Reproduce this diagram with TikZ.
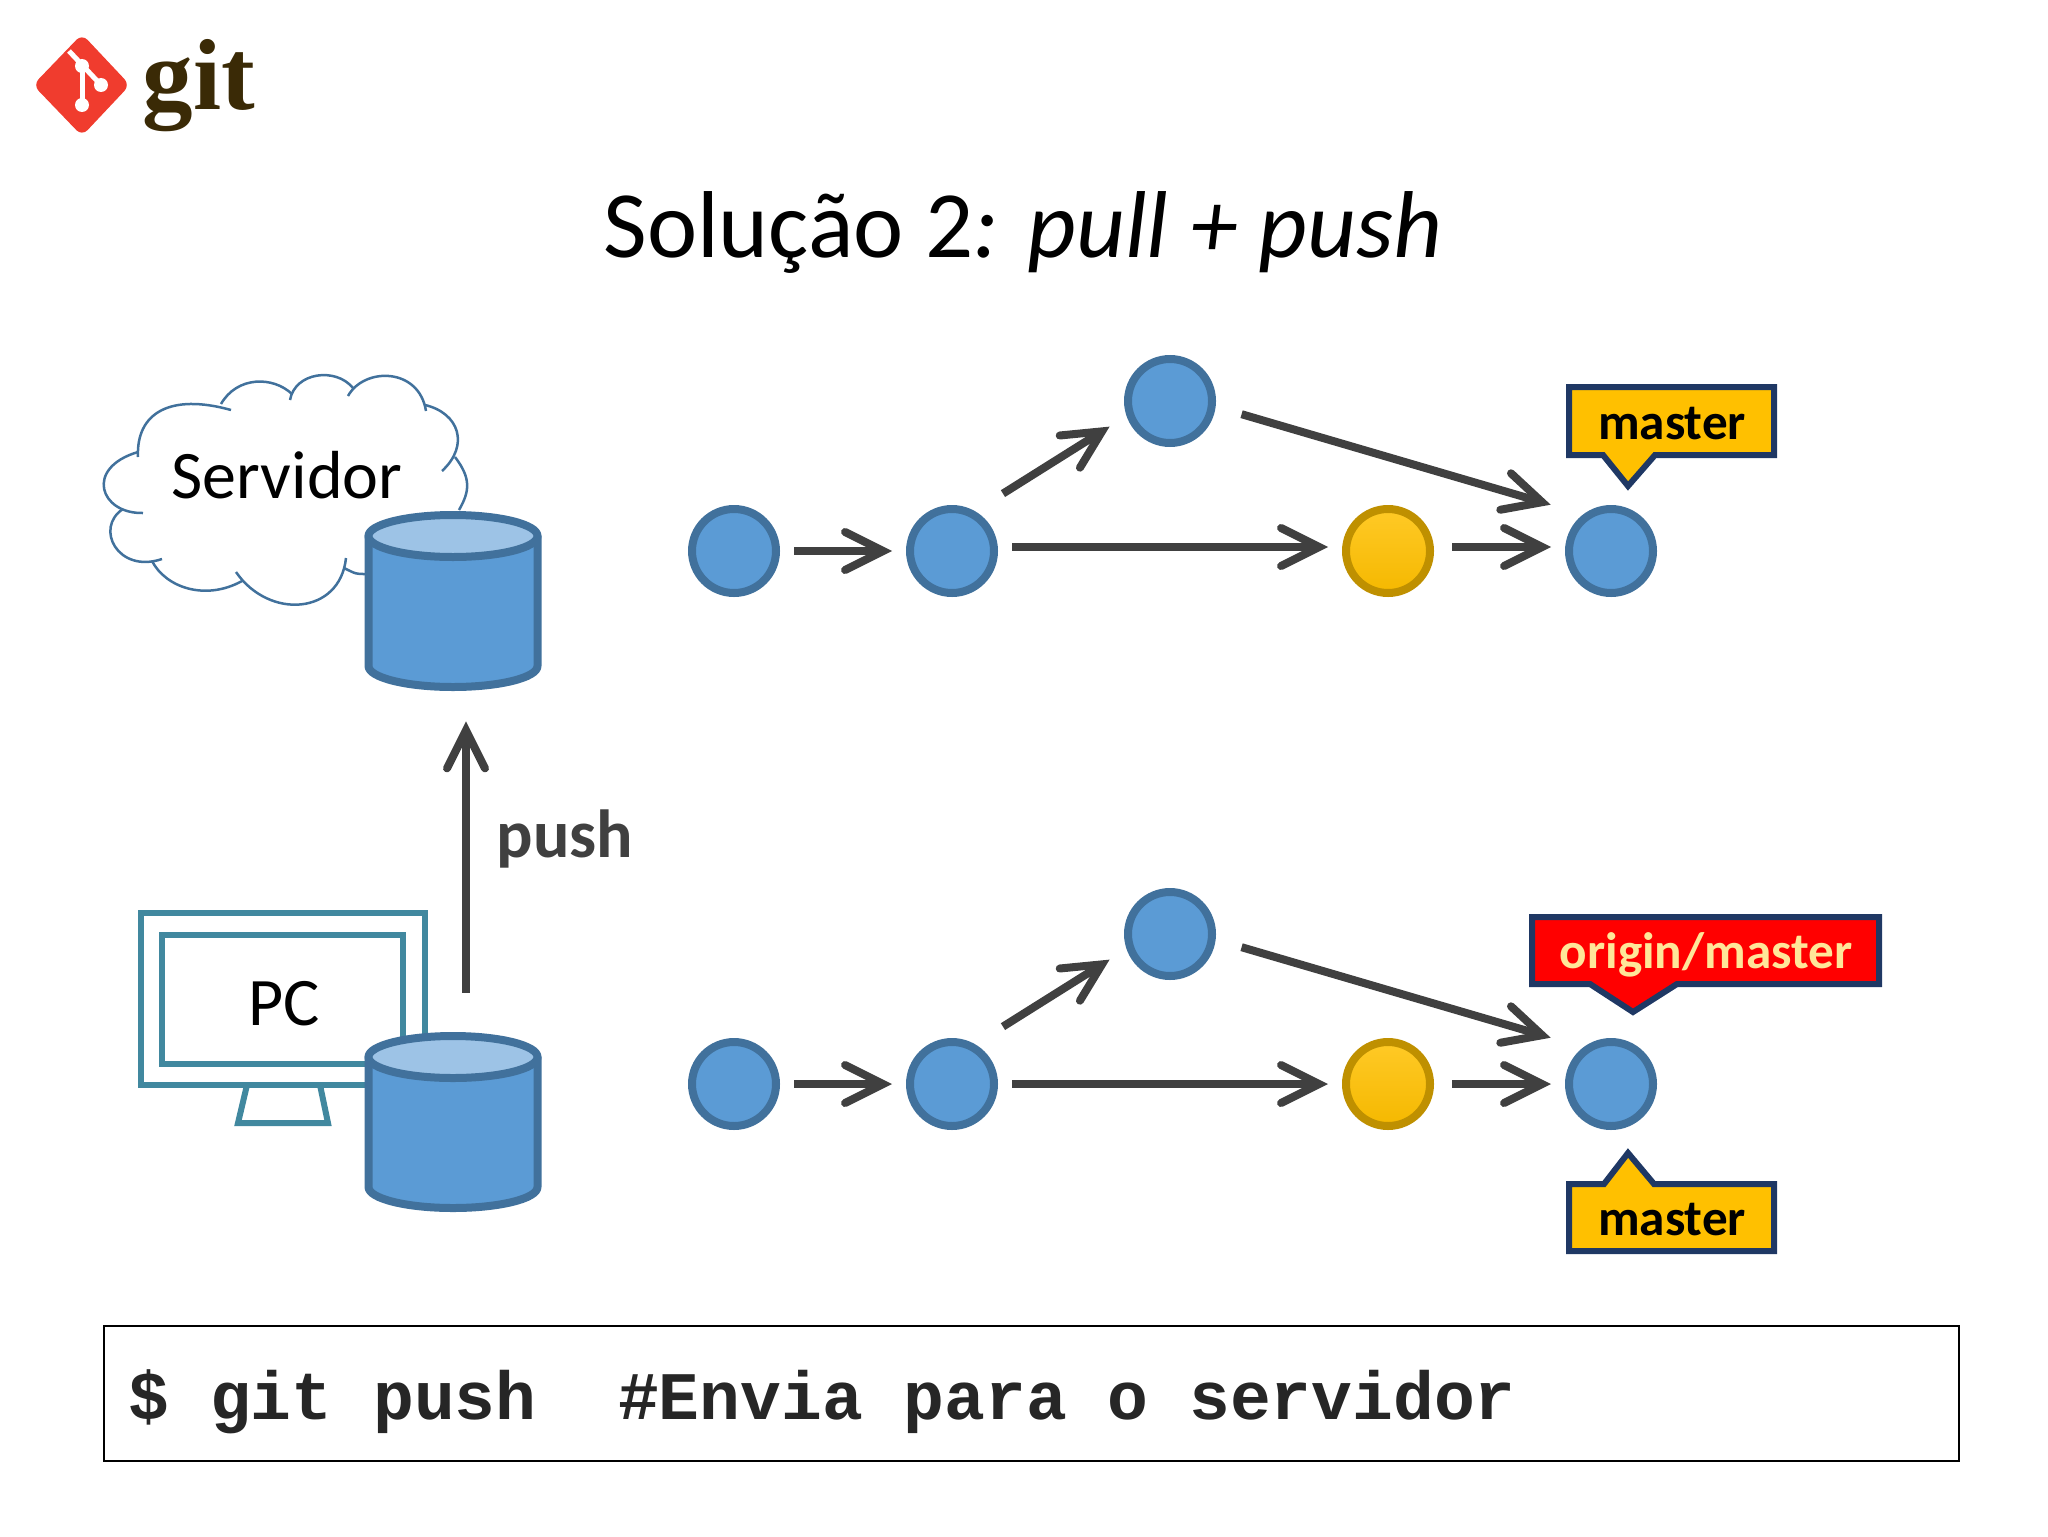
\documentclass[tikz,border=0pt]{standalone}
\usepackage{fontspec}
\setmainfont{Carlito}
\setmonofont{Liberation Mono}
\newfontfamily\logofont{Liberation Serif}
\usepackage{tikz}
\usetikzlibrary{arrows.meta}

\definecolor{fillblue}{HTML}{5B9BD5}
\definecolor{lineblue}{HTML}{41719C}
\definecolor{topblue}{HTML}{9DC3E6}
\definecolor{fillgold}{HTML}{FFC000}
\definecolor{linegold}{HTML}{BF9000}
\definecolor{tagline}{HTML}{1F3864}
\definecolor{screenline}{HTML}{41889F}
\definecolor{flowgray}{HTML}{404040}
\definecolor{logored}{HTML}{F03C2E}
\definecolor{logobrown}{HTML}{3A2A06}

\newcommand{\database}[2]{
    \begin{scope}[shift={(#2)}]
        \node (#1) [minimum width=88.5pt, minimum height=90pt, inner sep=0pt] at (0,0) {};
        \draw[db, fill=fillblue] (-84.5,-65) -- (-84.5,65) arc[start angle=180, end angle=360, x radius=42.25pt, y radius=10.5pt] -- (84.5,-65) -- cycle;
        \draw[db, fill=topblue] (0,-65) ellipse[x radius=42.25pt, y radius=10.5pt];
    \end{scope}
}

\begin{document}
\begin{tikzpicture}[
            x=0.5pt, y=-0.5pt,
            commit/.style={circle, draw=lineblue, fill=fillblue, line width=4pt, minimum size=42pt, inner sep=0pt},
            merge commit/.style={commit, draw=linegold, top color=fillgold!85!white, bottom color=fillgold!96!black},
            flow/.style={draw=flowgray, line width=4pt, -{Straight Barb[length=19pt, width=19pt, line cap=round]}, shorten <=7pt, shorten >=7pt},
            db/.style={draw=lineblue, line width=4pt, line join=round},
            bump/.style={draw=lineblue, line width=1.25pt},
            frame/.style={draw=screenline, fill=white, line width=3pt, inner sep=0pt},
            tag box/.style={draw=tagline, line width=3pt, fill=fillgold},
            tag text/.style={anchor=base, inner sep=0pt, font=\fontsize{25.6}{30}\selectfont\bfseries},
            word/.style={anchor=base, inner sep=0pt, font=\fontsize{34}{40}\selectfont}
            ]
            \useasboundingbox (0,0) rectangle (2048,1536);

            % logo
            \fill[logored, rounded corners=4pt] (82,34) -- (130,85) -- (82,136) -- (33,85) -- cycle;
            \draw[white, line width=2.5pt] (69,51) -- (101,85);
            \draw[white, line width=2.5pt] (82,64) -- (82,105);
            \fill[white] (82,66) circle (3.5pt);
            \fill[white] (101,85) circle (3.5pt);
            \fill[white] (82,105) circle (3.5pt);
            \node (logo) [anchor=base, inner sep=0pt, text=logobrown, font=\logofont\fontsize{50.5}{55}\selectfont\bfseries] at (199,110) {git};

            % title
            \node (title) [anchor=base, inner sep=0pt, font=\fontsize{47.5}{56}\selectfont] at (1023,257) {Solução 2\textit{: pull + push}};

            % cloud
            \draw[bump] (138,457) .. controls (136,413) and (170,393) .. (231,410);
            \draw[bump] (221,404) .. controls (237,376) and (273,376) .. (292,394);
            \draw[bump] (290,400) .. controls (295,372) and (336,367) .. (353,388);
            \draw[bump] (348,396) .. controls (364,367) and (419,367) .. (426,411);
            \draw[bump] (425,405) .. controls (459,413) and (470,445) .. (442,471);
            \draw[bump] (455,457) .. controls (471,478) and (470,491) .. (459,510);
            \draw[bump] (365,574) .. controls (356,574) .. (344,568);
            \draw[bump] (346,558) .. controls (340,615) and (269,620) .. (236,572);
            \draw[bump] (242,581) .. controls (206,601) and (166,588) .. (152,561);
            \draw[bump] (162,559) .. controls (118,574) and (94,528) .. (123,509);
            \draw[bump] (143,513) .. controls (100,514) and (84,468) .. (138,452);
            \node (server) [word] at (287,498) {Servidor};

            % monitor
            \draw[frame] (247,1085) -- (238,1123) -- (328,1123) -- (320,1085);
            \node (case) [frame, minimum width=142pt, minimum height=86pt] at (283,999) {};
            \node (screen) [frame, minimum width=120.5pt, minimum height=64.5pt] at (282.5,999.5) {};
            \node (pc) [word] at (284,1025) {PC};

            % databases
            \database{serverdb}{453,601}
            \database{pcdb}{453,1122}
            \draw[flow, shorten <=19.5pt, shorten >=15pt] ([xshift=6.5pt]pcdb.north) -- ([xshift=6.5pt]serverdb.south);
            \node (push) [anchor=base, inner sep=0pt, text=flowgray, font=\fontsize{34}{40}\selectfont\bfseries] at (565,857) {push};

            % top graph
            \node (a1) [commit] at (734,551) {};
            \node (a2) [commit] at (952,551) {};
            \node (a3) [commit] at (1170,401) {};
            \node (a4) [merge commit] at (1388,551) {};
            \node (a5) [commit] at (1611,551) {};
            \draw[flow] (a1) -- (a2);
            \draw[flow] ([yshift=2pt]a2.east) -- ([yshift=2pt]a4.west);
            \draw[flow, shorten <=9pt] ([yshift=2pt]a4.east) -- ([yshift=2pt]a5.west);
            \draw[flow, shorten <=16.5pt, shorten >=10pt] (a2.60) -- (a3.199);
            \draw[flow, shorten <=13.5pt, shorten >=17pt] (a3.-7) -- (a5.127);

            \draw[tag box] (1569,387) -- (1774,387) -- (1774,455) -- (1655,455) -- (1628,486) -- (1603,455) -- (1569,455) -- cycle;
            \node (mastertop) [tag text] at (1672,439) {master};

            % bottom graph
            \node (b1) [commit] at (734,1084) {};
            \node (b2) [commit] at (952,1084) {};
            \node (b3) [commit] at (1170,934) {};
            \node (b4) [merge commit] at (1388,1084) {};
            \node (b5) [commit] at (1611,1084) {};
            \draw[flow] (b1) -- (b2);
            \draw[flow] (b2) -- (b4);
            \draw[flow, shorten <=9pt] (b4) -- (b5);
            \draw[flow, shorten <=16.5pt, shorten >=10pt] (b2.60) -- (b3.199);
            \draw[flow, shorten <=13.5pt, shorten >=17pt] (b3.-7) -- (b5.127);

            \draw[tag box, fill=red] (1532,917) -- (1879,917) -- (1879,984) -- (1677,984) -- (1633,1012) -- (1590,984) -- (1532,984) -- cycle;
            \node (origin) [tag text, text=fillgold!40!white] at (1706,968) {origin/master};

            \draw[tag box] (1569,1184) -- (1604,1184) -- (1628,1153) -- (1654,1184) -- (1774,1184) -- (1774,1251) -- (1569,1251) -- cycle;
            \node (masterbottom) [tag text] at (1672,1235) {master};

            % command
            \node (command) [draw=black, line width=1pt, minimum width=927.5pt, minimum height=67.5pt, inner sep=0pt] at (1031.5,1393.5) {};
            \node (line) [anchor=base west, inner sep=0pt, text=black!85, font=\ttfamily\bfseries\fontsize{34}{40}\selectfont] at (128,1419) {\$ git push\ \ \#Envia para o servidor};
        \end{tikzpicture}
\end{document}
